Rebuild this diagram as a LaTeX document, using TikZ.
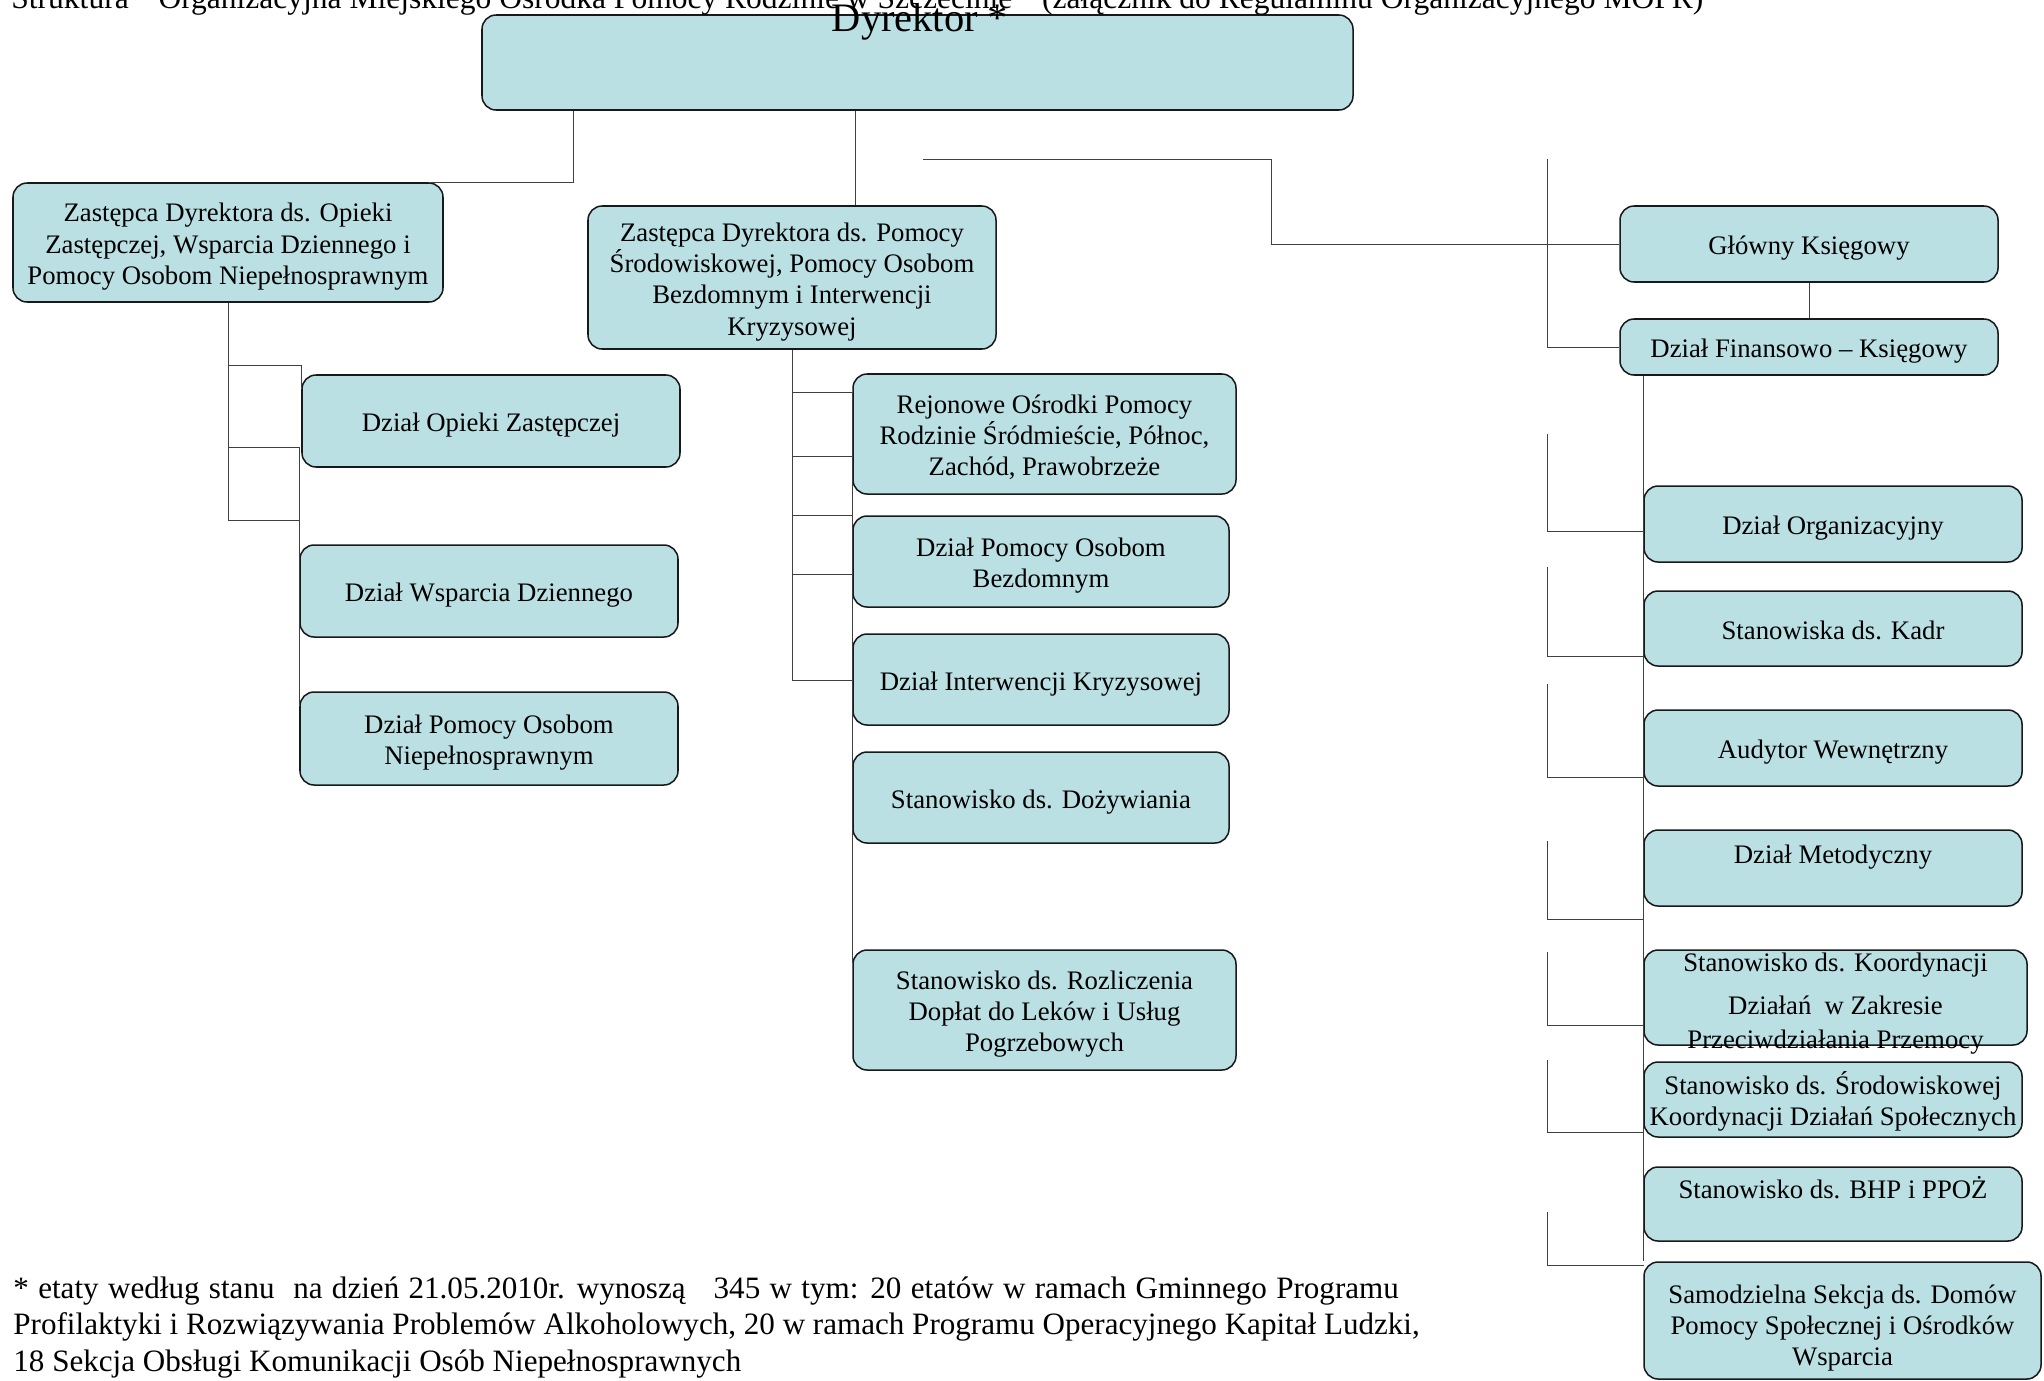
\documentclass[tikz,border=0pt]{standalone}
\usepackage{fontspec}
\setmainfont{Liberation Serif}
\definecolor{unitfill}{RGB}{187,224,227}
\newcommand\ut[1]{\rule{0pt}{13pt}#1\rule[-3.3pt]{0pt}{0pt}}

\begin{document}
\begin{tikzpicture}[
	x = 0.46pt, y = -0.46pt,
	unit/.style = {draw=black!90, line width=0.7pt, fill=unitfill, rounded corners=6.5pt, inner sep=0pt, align=center, font=\fontsize{12.3}{14.4}\selectfont},
	boxtext/.style = {inner sep=0pt, align=center, font=\fontsize{12.3}{14.4}\selectfont},
	wd/.style = {minimum width=#1*0.46pt},
	ht/.style = {minimum height=#1*0.46pt},
	link/.style = {draw=black!75, line width=0.45pt}
]
\useasboundingbox (0,0) rectangle (2044,1380);

\node[unit, wd=871, ht=95] (dyr) at (917.5,62.5) {};
\node[anchor=base west, inner sep=0pt, font=\fontsize{14.5}{16.5}\selectfont] (title) at (11,8) {Struktura \ "Organizacyjna Miejskiego Ośrodka Pomocy Rodzinie w Szczecinie" \ (załącznik do Regulaminu Organizacyjnego MOPR)};
\node[anchor=base, inner sep=0pt, font=\fontsize{18.6}{21}\selectfont] (dyrtext) at (920,31) {Dyrektor *};

\node[unit, wd=430, ht=119] (zo) at (228,242.5) {\ut{Zastępca Dyrektora ds. Opieki\\Zastępczej, Wsparcia Dziennego i\\Pomocy Osobom Niepełnosprawnym}};
\node[unit, wd=378, ht=92] (doz) at (491,421) {\ut{Dział Opieki Zastępczej}};
\node[unit, wd=378, ht=92] (dwd) at (489,591) {\ut{Dział Wsparcia Dziennego}};
\node[unit, wd=378, ht=93] (dpon) at (489,738.5) {\ut{Dział Pomocy Osobom\\Niepełnosprawnym}};

\node[unit, wd=408, ht=143] (zp) at (792,277.5) {\ut{Zastępca Dyrektora ds. Pomocy\\Środowiskowej, Pomocy Osobom\\Bezdomnym i Interwencji\\Kryzysowej}};
\node[unit, wd=383, ht=120] (ropr) at (1044.5,434) {\ut{Rejonowe Ośrodki Pomocy\\Rodzinie Śródmieście, Północ,\\Zachód, Prawobrzeże}};
\node[unit, wd=376, ht=91] (dpob) at (1041,561.5) {\ut{Dział Pomocy Osobom\\Bezdomnym}};
\node[unit, wd=376, ht=91] (dik) at (1041,679.5) {\ut{Dział Interwencji Kryzysowej}};
\node[unit, wd=376, ht=91] (sdz) at (1041,797.5) {\ut{Stanowisko ds. Dożywiania}};
\node[unit, wd=383, ht=120] (srd) at (1044.5,1010) {\ut{Stanowisko ds. Rozliczenia\\Dopłat do Leków i Usług\\Pogrzebowych}};

\node[unit, wd=378, ht=76] (gk) at (1809,244) {\ut{Główny Księgowy}};
\node[unit, wd=378, ht=56] (dfk) at (1809,347) {\ut{Dział Finansowo – Księgowy}};
\node[unit, wd=378, ht=76] (org) at (1833,524) {\ut{Dział Organizacyjny}};
\node[unit, wd=378, ht=75] (sk) at (1833,628.5) {\ut{Stanowiska ds. Kadr}};
\node[unit, wd=378, ht=76] (aw) at (1833,748) {\ut{Audytor Wewnętrzny}};
\node[unit, wd=378, ht=76] (dm) at (1833,868) {};
\node[boxtext, yshift=5.2pt] (dmtext) at (dm) {Dział Metodyczny};
\node[unit, wd=383, ht=95] (skd) at (1835.5,997.5) {};
\node[boxtext, yshift=-2.8pt] (skdtext) at (skd) {Stanowisko ds. Koordynacji\\[5.4pt]Działań \ w Zakresie\\[0.8pt]Przeciwdziałania Przemocy};
\node[unit, wd=378, ht=75] (ssk) at (1833,1099.5) {\ut{Stanowisko ds. Środowiskowej\\Koordynacji Działań Społecznych}};
\node[unit, wd=378, ht=74] (bhp) at (1833,1204) {};
\node[boxtext, yshift=7.5pt] (bhptext) at (bhp) {Stanowisko ds. BHP i PPOŻ};
\node[unit, wd=397, ht=117] (ssdp) at (1842.5,1320.5) {\ut{\rule{0pt}{16pt}Samodzielna Sekcja ds. Domów\\Pomocy Społecznej i Ośrodków\\Wsparcia}};

\node[anchor=north west, align=left, inner sep=0pt, font=\fontsize{14.3}{16.8}\selectfont] (note) at (13,1276) {{\spaceskip=4.3pt\relax * etaty według stanu \ na dzień 21.05.2010r. wynoszą \ \ 345 w tym: 20 etatów w ramach Gminnego Programu}\\Profilaktyki i Rozwiązywania Problemów Alkoholowych, 20 w ramach Programu Operacyjnego Kapitał Ludzki,\\18 Sekcja Obsługi Komunikacji Osób Niepełnosprawnych};

\coordinate (dz) at (573,0);
\coordinate (dp) at (855,0);
\draw[link] (dyr.south -| dz) |- ([xshift=-14*0.46pt]zo.north east);
\draw[link] (dyr.south -| dp) -- (zp.north -| dp);

\coordinate (zo1) at (228,365);
\coordinate (zo2) at (228,447);
\coordinate (zo3) at (228,520);
\draw[link] (zo.south) -- (zo3) -- (zo3 -| dwd.west);
\draw[link] (zo1) -| ([yshift=-6.5pt]doz.north west);
\draw[link] (zo2) -| ([yshift=-6.5pt]dpon.north west);

\foreach \y [count=\i] in {392, 456, 515, 574, 680}
	\coordinate (zp\i) at (792,\y);
\draw[link] (zp.south) -- (zp5);
\foreach \i in {1, ..., 5}
	\draw[link] (zp\i) -- (zp\i -| ropr.west);
\draw[link] (zp1 -| ropr.west) -- ([yshift=-6.5pt]srd.north west);

\coordinate (gkfree) at (923,159);
\coordinate (gkbend) at (1271,159);
\coordinate (dfkfree) at (1547,159);
\draw[link] (gkfree) -- (gkbend) |- (gk.west);
\draw[link] (dfkfree) |- (dfk.west);
\draw[link] (gk.south) -- (dfk.north);
\draw[link] (dfk.south -| org.west) -- (ssdp.north west);

\foreach \top/\bot [count=\i] in {434/531, 567/656, 684/777, 841/919, 952/1025, 1060/1132, 1212/1265} {
	\coordinate (l\i) at (1547,\top);
	\coordinate (s\i) at (1644,\bot);
	\draw[link] (l\i) |- (s\i);
}

\end{tikzpicture}
\end{document}
